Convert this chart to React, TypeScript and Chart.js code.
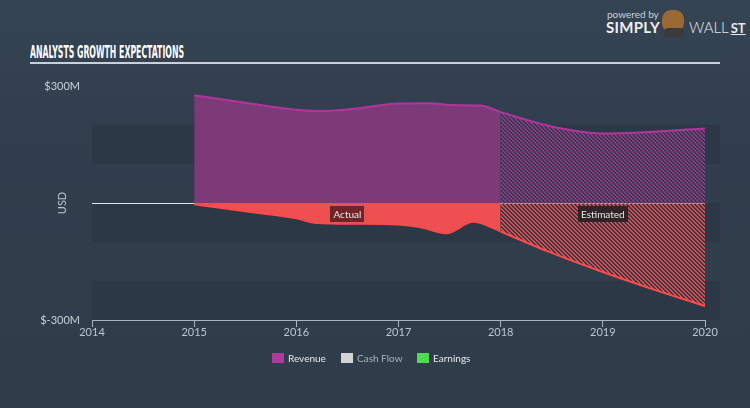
import React, { useEffect, useLayoutEffect, useRef } from 'react';
import { Chart, registerables } from 'chart.js';

Chart.register(...registerables);

// ---- data (USD millions) ----
const revenueActualYears = [2015, 2015.5, 2016, 2016.2, 2016.5, 2017, 2017.3, 2017.55, 2017.8, 2018];
const revenueActual = [276, 257, 239, 236, 240, 255, 256, 251, 250, 233];
const revenueEstYears = [2018, 2018.5, 2019, 2019.5, 2020];
const revenueEst = [233, 196, 178, 183, 191];

const earningsActualYears = [2015, 2015.5, 2016, 2016.2, 2016.6, 2017, 2017.22, 2017.47, 2017.73, 2018];
const earningsActual = [-4, -22, -40, -52, -54, -56, -63, -78, -49, -73];
const earningsEstYears = [2018, 2018.5, 2019, 2019.5, 2020];
const earningsEst = [-73, -128, -177, -222, -264];

const xTicks = [2014, 2015, 2016, 2017, 2018, 2019, 2020];
const yTickLabels: Record<number, string> = { 300: '$300M', [-300]: '$-300M' };
const bandRanges = [[100, 200], [-100, 0], [-300, -200]];
const legendItems = [
  { label: 'Revenue', color: '#b0399c', text: '#e8e8e8' },
  { label: 'Cash Flow', color: '#d4d4d4', text: '#a9b2bb' },
  { label: 'Earnings', color: '#4fdb4f', text: '#e8e8e8' },
];

const BG = '#313e4d';
const BAND = '#2c3846';

function hatch(color: string, bg: string): CanvasPattern | string {
  const c = document.createElement('canvas');
  c.width = 4;
  c.height = 4;
  const g = c.getContext('2d');
  if (!g) return color;
  g.fillStyle = bg;
  g.fillRect(0, 0, 4, 4);
  g.fillStyle = color;
  for (let y = 0; y < 4; y++) {
    for (let x = 0; x < 4; x++) {
      if ((x - y + 8) % 4 < 2) g.fillRect(x, y, 1, 1);
    }
  }
  return g.createPattern(c, 'repeat') as CanvasPattern;
}

const pts = (xs: number[], ys: number[]) => xs.map((x, i) => ({ x, y: ys[i] }));

export default function App() {
  const ref = useRef<HTMLCanvasElement | null>(null);
  const titleRef = useRef<HTMLSpanElement | null>(null);

  useLayoutEffect(() => {
    const el = titleRef.current;
    if (!el) return;
    const w = el.getBoundingClientRect().width;
    if (w > 0) el.style.transform = `scaleX(${154 / w})`;
  }, []);

  useEffect(() => {
    if (!ref.current) return;
    const revHatch = hatch('#8f3a86', '#2f3a4a');
    const earnHatch = hatch('#e04b4e', '#2f3a4a');

    const bandsPlugin = {
      id: 'bands',
      beforeDatasetsDraw(chart: any) {
        const { ctx, chartArea, scales } = chart;
        const y = scales.y;
        const x = scales.x;
        ctx.save();
        ctx.fillStyle = BAND;
        for (const [lo, hi] of bandRanges) {
          const t = y.getPixelForValue(hi);
          const b = y.getPixelForValue(lo);
          ctx.fillRect(chartArea.left, t, chartArea.right - chartArea.left + 15, b - t);
        }
        const y0 = Math.round(y.getPixelForValue(0)) + 0.5;
        ctx.strokeStyle = '#dfe4e9';
        ctx.lineWidth = 1;
        ctx.beginPath();
        ctx.moveTo(chartArea.left, y0);
        ctx.lineTo(x.getPixelForValue(2018), y0);
        ctx.stroke();
        ctx.restore();
      },
      afterDatasetsDraw(chart: any) {
        const { ctx, scales } = chart;
        const x = scales.x;
        const y = scales.y;
        const y0 = Math.round(y.getPixelForValue(0)) + 0.5;
        ctx.save();
        ctx.strokeStyle = 'rgba(240,220,230,0.75)';
        ctx.setLineDash([2, 2]);
        ctx.beginPath();
        ctx.moveTo(x.getPixelForValue(2018), y0);
        ctx.lineTo(x.getPixelForValue(2020), y0);
        ctx.stroke();
        ctx.setLineDash([]);
        const tags = [
          { t: 'Actual', xv: 2016.5, bg: '#6f2428' },
          { t: 'Estimated', xv: 2019, bg: '#2f2327' },
        ];
        ctx.font = '10px Lato, "DejaVu Sans", sans-serif';
        ctx.textAlign = 'center';
        ctx.textBaseline = 'middle';
        for (const tg of tags) {
          const px = x.getPixelForValue(tg.xv);
          const py = y.getPixelForValue(-28);
          const w = ctx.measureText(tg.t).width + 6;
          ctx.fillStyle = tg.bg;
          ctx.fillRect(Math.round(px - w / 2), Math.round(py - 8), Math.round(w), 16);
          ctx.fillStyle = '#ece6e6';
          ctx.fillText(tg.t, px, py + 1);
        }
        ctx.restore();
      },
    };

    const chart = new Chart(ref.current, {
      type: 'line',
      data: {
        datasets: [
          {
            data: pts(revenueActualYears, revenueActual),
            borderColor: '#b2359f',
            backgroundColor: '#7d3a78',
            borderWidth: 2,
            fill: 'origin',
            pointRadius: 0,
            cubicInterpolationMode: 'monotone',
          },
          {
            data: pts(revenueEstYears, revenueEst),
            borderColor: '#b2359f',
            backgroundColor: revHatch as any,
            borderWidth: 2,
            fill: 'origin',
            pointRadius: 0,
            cubicInterpolationMode: 'monotone',
          },
          {
            data: pts(earningsActualYears, earningsActual),
            borderColor: '#ff4a4a',
            backgroundColor: '#ee4f50',
            borderWidth: 1.5,
            fill: 'origin',
            pointRadius: 0,
            cubicInterpolationMode: 'monotone',
          },
          {
            data: pts(earningsEstYears, earningsEst),
            borderColor: '#ff4a4a',
            backgroundColor: earnHatch as any,
            borderWidth: 2,
            fill: 'origin',
            pointRadius: 0,
            cubicInterpolationMode: 'monotone',
          },
        ],
      },
      options: {
        animation: false,
        responsive: false,
        maintainAspectRatio: false,
        layout: { padding: { left: 0, right: 45, top: 86, bottom: 68 } },
        plugins: { legend: { display: false }, tooltip: { enabled: false } },
        scales: {
          x: {
            type: 'linear',
            min: 2014,
            max: 2020,
            afterBuildTicks: (s: any) => {
              s.ticks = xTicks.map((v) => ({ value: v }));
            },
            afterFit: (s: any) => {
              s.height = 20;
            },
            grid: { drawOnChartArea: false, drawTicks: true, tickLength: 7, color: '#a9b5c2' },
            border: { display: true, color: '#a9b5c2', width: 1 },
            ticks: {
              padding: -1,
              color: '#bcc6d0',
              font: { size: 11, family: 'Lato, "DejaVu Sans", sans-serif' },
              callback: (v: any) => String(v),
              maxRotation: 0,
              autoSkip: false,
            },
          },
          y: {
            type: 'linear',
            min: -300,
            max: 300,
            afterBuildTicks: (s: any) => {
              s.ticks = [-300, 0, 300].map((v) => ({ value: v }));
            },
            afterFit: (s: any) => {
              s.width = 92;
            },
            grid: { display: false, drawTicks: false },
            border: { display: false },
            title: {
              display: true,
              text: 'USD',
              color: '#bcc6d0',
              font: { size: 11, family: 'Lato, "DejaVu Sans", sans-serif' },
              padding: { top: 56, bottom: 0 },
            },
            ticks: {
              padding: 12,
              color: '#c8d0d8',
              font: { size: 11, family: 'Lato, "DejaVu Sans", sans-serif' },
              callback: (v: any) => yTickLabels[v as number] ?? '',
            },
          },
        },
      },
      plugins: [bandsPlugin],
    });
    return () => chart.destroy();
  }, []);

  return (
    <div
      style={{
        position: 'absolute',
        left: 0,
        top: 0,
        width: 750,
        height: 408,
        overflow: 'hidden',
        background: `linear-gradient(180deg, #354453 0%, ${BG} 30%, #2f3c4a 100%)`,
        fontFamily: 'Lato, "DejaVu Sans", sans-serif',
      }}
    >
      <span
        ref={titleRef}
        style={{
          position: 'absolute',
          left: 30,
          top: 43,
          display: 'inline-block',
          transformOrigin: '0 0',
          color: '#ffffff',
          fontFamily: '"DejaVu Sans Condensed", "Liberation Sans Narrow", sans-serif',
          fontWeight: 'bold',
          fontSize: 17,
          lineHeight: '19px',
          whiteSpace: 'nowrap',
        }}
      >
        ANALYSTS GROWTH EXPECTATIONS
      </span>
      <div style={{ position: 'absolute', left: 30, top: 62, width: 690, height: 2, background: '#c9d1d9' }} />
      <div style={{ position: 'absolute', left: 607, top: 8, fontSize: 10, color: '#c9d1d9', whiteSpace: 'nowrap' }}>
        powered by
      </div>
      <div
        style={{
          position: 'absolute',
          left: 606,
          top: 18,
          fontSize: 15,
          fontWeight: 'bold',
          color: '#f0f0f0',
          whiteSpace: 'nowrap',
          letterSpacing: 0.3,
        }}
      >
        SIMPLY
      </div>
      <div
        style={{
          position: 'absolute',
          left: 662,
          top: 10,
          width: 22,
          height: 24,
          borderRadius: '40% 40% 50% 50%',
          background: '#9a6a34',
        }}
      />
      <div
        style={{
          position: 'absolute',
          left: 664,
          top: 28,
          width: 20,
          height: 9,
          borderRadius: '4px 4px 0 0',
          background: '#3b3b3b',
        }}
      />
      <div
        style={{
          position: 'absolute',
          left: 689,
          top: 18,
          fontSize: 15,
          fontWeight: 300,
          color: '#e8e8e8',
          whiteSpace: 'nowrap',
        }}
      >
        WALL
        <span style={{ fontWeight: 'bold', textDecoration: 'underline', marginLeft: 2, fontSize: 13 }}>ST</span>
      </div>
      <canvas ref={ref} width={750} height={408} style={{ position: 'absolute', left: 0, top: 0, width: 750, height: 408 }} />
      {legendItems.map((it, i) => (
        <div
          key={it.label}
          style={{
            position: 'absolute',
            left: [272, 341, 417][i],
            top: 352,
            display: 'flex',
            alignItems: 'center',
            fontSize: 10,
            color: it.text,
            whiteSpace: 'nowrap',
          }}
        >
          <span style={{ display: 'inline-block', width: 12, height: 10, background: it.color, marginRight: 4 }} />
          {it.label}
        </div>
      ))}
    </div>
  );
}
